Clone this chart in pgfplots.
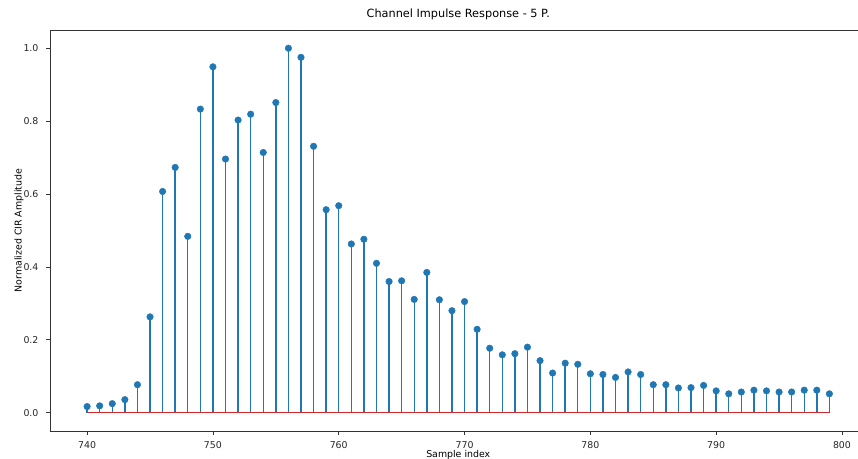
\documentclass[border=0pt]{standalone}
\usepackage{fontspec}
\setmainfont{DejaVu Sans}
\usepackage{pgfplots}
\pgfplotsset{compat=1.18}

\definecolor{mplblue}{HTML}{1F77B4}
\definecolor{mplred}{HTML}{D62728}

% normalised CIR, samples 740..799
\pgfplotstableread{
n    amp
740  0.017
741  0.019
742  0.025
743  0.036
744  0.077
745  0.263
746  0.607
747  0.673
748  0.484
749  0.833
750  0.949
751  0.696
752  0.803
753  0.819
754  0.714
755  0.851
756  1.000
757  0.975
758  0.731
759  0.557
760  0.568
761  0.463
762  0.476
763  0.410
764  0.360
765  0.362
766  0.311
767  0.385
768  0.310
769  0.280
770  0.305
771  0.229
772  0.177
773  0.159
774  0.162
775  0.180
776  0.143
777  0.109
778  0.136
779  0.133
780  0.107
781  0.105
782  0.097
783  0.112
784  0.105
785  0.077
786  0.077
787  0.068
788  0.069
789  0.075
790  0.060
791  0.052
792  0.057
793  0.062
794  0.060
795  0.057
796  0.057
797  0.062
798  0.062
799  0.052
}\cir

\begin{document}
\begin{tikzpicture}
\begin{axis}[
    name=ax,
    scale only axis,
    width=816.5pt, height=401pt,
    xmin=737.05, xmax=801.95,
    ymin=-0.05, ymax=1.05,
    xtick={740,750,...,800},
    ytick={0,0.2,...,1.0},
    yticklabel style={/pgf/number format/fixed, /pgf/number format/fixed zerofill, /pgf/number format/precision=1, xshift=-4pt},
    /pgf/number format/assume math mode=true,
    tick label style={font=\fontsize{9.4}{11}\selectfont, text=black!85},
    xticklabel style={anchor=base, yshift=-14pt},
    tick align=outside,
    major tick length=4pt,
    tick style={black!80, line width=0.8pt},
    axis line style={black!80, line width=0.8pt},
    axis x line*=bottom, axis y line*=left,
    title={Channel Impulse Response - 5 P.},
    title style={font=\fontsize{11.3}{13}\selectfont, at={(axis description cs:0.5,1)}, anchor=base, yshift=6pt},
    xlabel={Sample index},
    xlabel style={font=\fontsize{9.4}{11}\selectfont, at={(axis description cs:0.5,0)}, anchor=base, yshift=-27pt},
    ylabel={Normalized CIR Amplitude},
    ylabel style={font=\fontsize{9.4}{11}\selectfont, at={(axis description cs:0,0.5)}, anchor=center, yshift=31pt},
    clip=false,
]
\addplot[ycomb, mplblue, line width=1.4pt] table[x=n, y=amp] {\cir};
\addplot[mplred, line width=1.3pt] coordinates {(740,0) (799,0)};
\addplot[only marks, mark=*, mark size=3.3pt, mplblue] table[x=n, y=amp] {\cir};
\end{axis}
% top spine (the right one is cropped off in the reference)
\draw[black!80, line width=0.8pt] (ax.north west) -- ([xshift=808pt]ax.north west);
\pgfresetboundingbox
\path[use as bounding box] ([xshift=-50pt, yshift=-28pt]ax.south west) rectangle ([xshift=808pt, yshift=30pt]ax.north west);
\end{tikzpicture}
\end{document}
